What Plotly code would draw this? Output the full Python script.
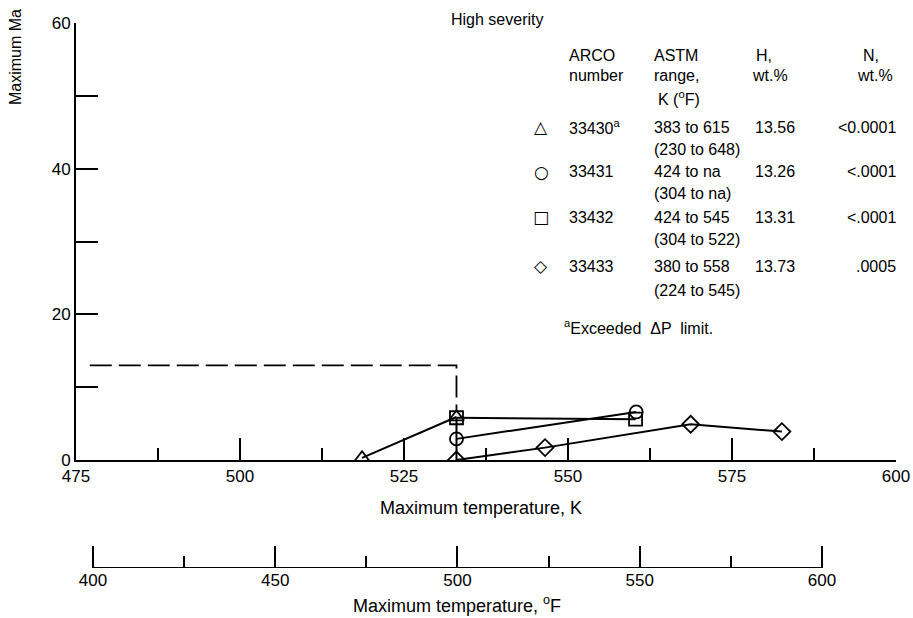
import plotly.graph_objects as go

# ---------------- data ----------------
tri_x = [518.6, 533.0]
tri_y = [0.3, 5.9]
cir_x = [533.0, 560.4]
cir_y = [2.9, 6.6]
sq_x = [533.0, 560.3]
sq_y = [5.8, 5.6]
dia_x = [533.0, 546.5, 568.7, 582.6]
dia_y = [0.0, 1.7, 4.9, 3.9]
limit_x = [477.1, 533.0, 533.0]
limit_y = [13.0, 13.0, 6.6]
stem_x = [533.0, 533.0]
stem_y = [0.0, 5.8]

k_ticks = [475, 500, 525, 550, 575, 600]
k_minor = [487.5, 512.5, 537.5, 562.5, 587.5]
y_ticks = [0, 20, 40, 60]
y_minor = [10, 30, 50]
f_ticks = [400, 450, 500, 550, 600]
f_minor = [425, 475, 525, 575]
f_line = [400, 600]

table_rows = [
    ("△", "33430<sup>a</sup>", "383 to 615", "(230 to 648)", "13.56", "<0.0001"),
    ("○", "33431", "424 to na", "(304 to na)", "13.26", "<.0001"),
    ("□", "33432", "424 to 545", "(304 to 522)", "13.31", "<.0001"),
    ("◇", "33433", "380 to 558", "(224 to 545)", "13.73", ".0005"),
]

FONT = "Liberation Sans Narrow, Liberation Sans, Arial, sans-serif"
W, H = 913, 618
L, R, T, B = 76, 17, 23, 50
PW, PH = W - L - R, H - T - B
main_bottom = 460
f_axis_px = 568

fig = go.Figure()

line = dict(color="black", width=2)
mk = dict(color="black", size=13, line=dict(color="black", width=1.8))

fig.add_trace(go.Scatter(x=limit_x, y=limit_y, mode="lines",
                         line=dict(color="black", width=1.8, dash="22px,7px"), hoverinfo="skip"))
fig.add_trace(go.Scatter(x=stem_x, y=stem_y, mode="lines", line=line, hoverinfo="skip"))
fig.add_trace(go.Scatter(x=tri_x, y=tri_y, mode="lines+markers", line=line,
                         marker=dict(symbol="triangle-up-open", **mk), name="33430"))
fig.add_trace(go.Scatter(x=sq_x, y=sq_y, mode="lines+markers", line=line,
                         marker=dict(symbol="square-open", **mk), name="33432"))
fig.add_trace(go.Scatter(x=cir_x, y=cir_y, mode="lines+markers", line=line,
                         marker=dict(symbol="circle-open", **mk), name="33431"))
fig.add_trace(go.Scatter(x=dia_x, y=dia_y, mode="lines+markers", line=line,
                         marker=dict(symbol="diamond-open", **mk), name="33433"))
fig.add_trace(go.Scatter(x=f_line, y=[0, 0], mode="lines", line=line,
                         xaxis="x2", yaxis="y2", hoverinfo="skip", cliponaxis=False))

k_lo, k_hi = 475.0, 600.0
f_lo = (k_lo - 273.15) * 9 / 5 + 32
f_hi = (k_hi - 273.15) * 9 / 5 + 32

main_dom_low = (f_axis_px - main_bottom) / PH

tickfont = dict(family=FONT, size=17, color="black")

fig.update_layout(
    width=W, height=H,
    margin=dict(l=L, r=R, t=T, b=B, autoexpand=False),
    paper_bgcolor="white", plot_bgcolor="white",
    showlegend=False,
    font=dict(family=FONT, color="black"),
    xaxis=dict(range=[k_lo, k_hi], domain=[0, 1], anchor="y", automargin=False,
               showline=True, linecolor="black", linewidth=2,
               showgrid=False, zeroline=False,
               ticks="inside", tickvals=k_ticks, ticklen=22, tickwidth=2, tickcolor="black",
               minor=dict(tickvals=k_minor, ticks="inside", ticklen=12, tickwidth=2, tickcolor="black"),
               tickfont=tickfont),
    yaxis=dict(range=[0, 60], domain=[main_dom_low, 1], anchor="x", automargin=False,
               showline=True, linecolor="black", linewidth=2,
               showgrid=False, zeroline=False,
               ticks="inside", tickvals=y_ticks, ticklen=22, tickwidth=2, tickcolor="black",
               minor=dict(tickvals=y_minor, ticks="inside", ticklen=22, tickwidth=2, tickcolor="black"),
               tickfont=tickfont),
    xaxis2=dict(range=[f_lo, f_hi], domain=[0, 1], anchor="y2", automargin=False,
                showline=False, showgrid=False, zeroline=False,
                ticks="inside", tickvals=f_ticks, ticklen=22, tickwidth=2, tickcolor="black",
                minor=dict(tickvals=f_minor, ticks="inside", ticklen=12, tickwidth=2, tickcolor="black"),
                tickfont=tickfont),
    yaxis2=dict(range=[0, 1], domain=[0, 0.06], anchor="x2", visible=False, automargin=False),
)


def px_x(px):
    return (px - L) / PW


def px_y(py):
    return (f_axis_px - py) / PH


def txt(px, py, s, size=16, xanchor="center", yanchor="middle", angle=0):
    fig.add_annotation(xref="paper", yref="paper", x=px_x(px), y=px_y(py), text=s,
                       showarrow=False, xanchor=xanchor, yanchor=yanchor, textangle=angle,
                       font=dict(family=FONT, size=size, color="black"))


# axis titles
txt(481, 508, "Maximum temperature, K", size=18)
txt(457, 604, "Maximum temperature, <sup>o</sup>F", size=18)
fig.add_annotation(xref="paper", yref="paper", x=px_x(15), y=px_y(107), text="Maximum Ma",
                   showarrow=False, xanchor="center", yanchor="bottom", textangle=-90,
                   font=dict(family="Liberation Sans, Arial, sans-serif", size=16, color="black"))

# table
txt(545, 20, "High severity", xanchor="right")
txt(567, 55, "ARCO", xanchor="left")
txt(567, 76, "number", xanchor="left")
txt(652, 55, "ASTM", xanchor="left")
txt(652, 76, "range,", xanchor="left")
txt(656, 98, "K (<sup>o</sup>F)", xanchor="left")
txt(764, 55, "H,")
txt(770, 76, "wt.%")
txt(871, 55, "N,")
txt(875, 76, "wt.%")

row_y = [127, 172, 217, 266]
sub_dy = [22, 22, 23, 24]
for (sym, num, rng, rngf, hval, nval), ry, dy in zip(table_rows, row_y, sub_dy):
    fig.add_annotation(xref="paper", yref="paper", x=px_x(541), y=px_y(ry), text=sym,
                       showarrow=False, xanchor="center", yanchor="middle",
                       font=dict(family="DejaVu Sans", size=17, color="black"))
    txt(567, ry, num, xanchor="left")
    txt(652, ry, rng, xanchor="left")
    txt(652, ry + dy, rngf, xanchor="left")
    txt(753, ry, hval, xanchor="left")
    txt(898, ry, nval, xanchor="right")

txt(562, 327, "<sup>a</sup>Exceeded  ΔP  limit.", xanchor="left")

fig.write_html("out.html")
